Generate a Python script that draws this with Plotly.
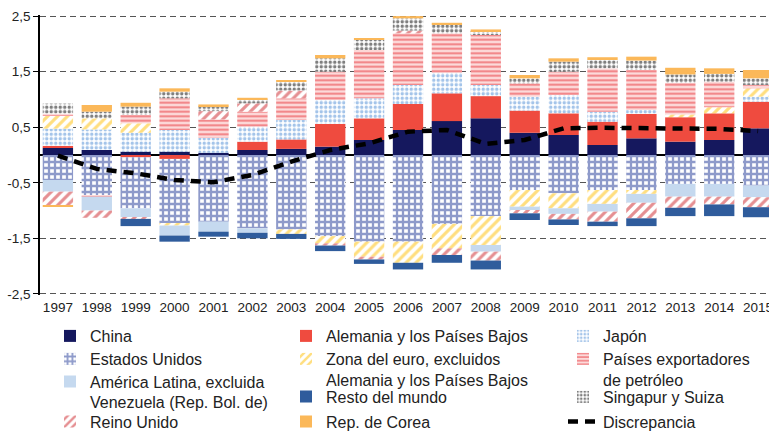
import plotly.graph_objects as go

years = list(range(1997, 2016))

china =        [0.13, 0.09, 0.06, 0.06, 0.04, 0.09, 0.11, 0.15, 0.27, 0.45, 0.61, 0.66, 0.40, 0.36, 0.18, 0.30, 0.24, 0.27, 0.48]
alemania_pb =  [0.035, 0.0, -0.04, -0.07, 0.0, 0.15, 0.17, 0.41, 0.39, 0.47, 0.50, 0.40, 0.40, 0.39, 0.42, 0.44, 0.44, 0.48, 0.48]
estados_unidos = [-0.45, -0.72, -0.92, -1.17, -1.20, -1.32, -1.34, -1.46, -1.56, -1.56, -1.24, -1.10, -0.63, -0.69, -0.63, -0.63, -0.52, -0.52, -0.55]
japon =        [0.31, 0.37, 0.34, 0.39, 0.27, 0.27, 0.35, 0.43, 0.36, 0.34, 0.37, 0.20, 0.25, 0.33, 0.18, 0.07, 0.0, 0.0, 0.09]
zona_euro =    [0.24, 0.20, 0.17, -0.03, 0.0, 0.0, -0.08, -0.13, -0.27, -0.38, -0.44, -0.52, -0.30, -0.27, -0.25, -0.07, 0.05, 0.11, 0.15]
petroleo =     [0.03, -0.03, 0.15, 0.57, 0.33, 0.27, 0.39, 0.51, 0.87, 0.93, 0.71, 0.90, 0.24, 0.42, 0.78, 0.72, 0.57, 0.46, 0.06]
america_latina = [-0.21, -0.25, -0.16, -0.18, -0.18, -0.08, 0.0, 0.0, 0.0, 0.0, 0.0, -0.12, -0.06, -0.10, -0.14, -0.16, -0.23, -0.23, -0.21]
reino_unido =  [-0.24, -0.13, -0.03, 0.0, 0.15, 0.15, 0.14, -0.04, -0.05, 0.05, -0.12, -0.16, -0.06, -0.10, -0.18, -0.28, -0.20, -0.14, -0.18]
resto_mundo =  [0.0, 0.0, -0.13, -0.11, -0.09, -0.10, -0.09, -0.10, -0.08, -0.12, -0.14, -0.16, -0.12, -0.10, -0.08, -0.14, -0.15, -0.21, -0.18]
singapur_suiza = [0.18, 0.12, 0.15, 0.12, 0.09, 0.07, 0.16, 0.24, 0.18, 0.22, 0.15, 0.07, 0.09, 0.18, 0.15, 0.17, 0.15, 0.14, 0.12]
corea =        [-0.03, 0.12, 0.07, 0.06, 0.03, 0.03, 0.03, 0.06, 0.03, 0.04, 0.04, 0.03, 0.06, 0.06, 0.05, 0.07, 0.12, 0.10, 0.15]
discrepancia = [-0.01, -0.25, -0.33, -0.45, -0.49, -0.36, -0.12, 0.09, 0.21, 0.42, 0.45, 0.20, 0.27, 0.48, 0.49, 0.49, 0.47, 0.47, 0.43]

ytick_vals = [-2.5, -1.5, -0.5, 0.5, 1.5, 2.5]
ytick_text = ["-2,5", "-1,5", "-0,5", "0,5", "1,5", "2,5"]

FONT = "Liberation Sans, Arial, sans-serif"

W, H = 769, 433
M_L, M_R, M_T, M_B = 40, 0, 15, 138
PLOT_W = W - M_L - M_R
PLOT_H = H - M_T - M_B

fig = go.Figure()

legend_slots = {}


def place_legend(key, text_left, line_center):
    left = text_left - 40
    top = line_center - 17
    legend_slots[key] = dict(
        x=(left - M_L) / PLOT_W,
        y=(H - M_B - top) / PLOT_H,
    )


def add_bar(name, y, legend, color=None, pattern=None):
    if pattern is None:
        marker = dict(color=color, line=dict(width=0))
    else:
        marker = dict(color="white", line=dict(width=0), pattern=pattern)
    fig.add_trace(go.Bar(x=years, y=y, name=name, marker=marker, legend=legend, showlegend=True))


COL1, COL2, COL3 = 90, 326, 603

add_bar("China", china, "legend", color="#15185E")
place_legend("legend", COL1, 336)
add_bar("Alemania y los Países Bajos", alemania_pb, "legend2", color="#EF4B3F")
place_legend("legend2", COL2, 336)
add_bar("Estados Unidos", estados_unidos, "legend3",
        pattern=dict(shape="+", fgcolor="#1E3595", bgcolor="white", size=6, solidity=0.62))
place_legend("legend3", COL1, 359)
add_bar("Japón", japon, "legend4",
        pattern=dict(shape=".", fgcolor="#4A8AD4", bgcolor="white", size=4.5, solidity=0.45))
place_legend("legend4", COL3, 336)
add_bar("Zona del euro, excluidos<br>Alemania y los Países Bajos", zona_euro, "legend5",
        pattern=dict(shape="/", fgcolor="#FFBE00", bgcolor="white", size=7, solidity=0.45))
place_legend("legend5", COL2, 359)
add_bar("Países exportadores<br>de petróleo", petroleo, "legend6",
        pattern=dict(shape="-", fgcolor="#E41E26", bgcolor="#FCDADA", size=4.5, solidity=0.42))
place_legend("legend6", COL3, 359)
add_bar("América Latina, excluida<br>Venezuela (Rep. Bol. de)", america_latina, "legend7", color="#C5D9EF")
place_legend("legend7", COL1, 381.5)
add_bar("Reino Unido", reino_unido, "legend8",
        pattern=dict(shape="/", fgcolor="#CC1F26", bgcolor="white", size=7, solidity=0.45))
place_legend("legend8", COL1, 421.5)
add_bar("Resto del mundo", resto_mundo, "legend9", color="#2F5C9C")
place_legend("legend9", COL2, 396.5)
add_bar("Singapur y Suiza", singapur_suiza, "legend10",
        pattern=dict(shape=".", fgcolor="#000000", bgcolor="white", size=4.5, solidity=0.45))
place_legend("legend10", COL3, 397)
add_bar("Rep. de Corea", corea, "legend11", color="#FBB859")
place_legend("legend11", COL2, 421.5)

fig.add_trace(go.Scatter(x=years, y=discrepancia, name="Discrepancia", mode="lines",
                         line=dict(color="black", width=4.5, dash="10px,7px"),
                         legend="legend12", showlegend=True))
place_legend("legend12", COL3, 421.5)

legend_common = dict(
    xref="paper", yref="paper", yanchor="top", xanchor="left",
    font=dict(family=FONT, size=16, color="#222"), valign="top",
    bgcolor="rgba(0,0,0,0)", traceorder="normal", visible=True,
)

legends_layout = {k: dict(**v, **legend_common) for k, v in legend_slots.items()}

fig.update_layout(
    width=W, height=H,
    showlegend=True,
    margin=dict(l=M_L, r=M_R, t=M_T, b=M_B, autoexpand=False),
    paper_bgcolor="white", plot_bgcolor="white",
    barmode="relative", bargap=0.22,
    font=dict(family=FONT, size=13.5, color="#222"),
    xaxis=dict(range=[1996.54, 2015.28], tickvals=years, ticktext=[str(y) for y in years],
               showgrid=False, showline=False, zeroline=False, ticks="",
               ticklabeloverflow="allow", ticklabelstandoff=2, tickfont=dict(size=13.5)),
    yaxis=dict(range=[-2.52, 2.52], tickvals=ytick_vals, ticktext=ytick_text,
               showgrid=True, gridcolor="#555", griddash="6px,4px", gridwidth=1.3,
               zeroline=True, zerolinecolor="black", zerolinewidth=1.6,
               showline=True, linecolor="black", linewidth=1.5,
               ticks="outside", ticklen=5, tickcolor="black", tickwidth=1.3,
               tickfont=dict(size=13.5)),
    **legends_layout,
)

fig.write_html(
    "out.html",
    config={"displayModeBar": False},
    post_script="document.body.style.margin='0';document.body.style.overflow='hidden';",
)
